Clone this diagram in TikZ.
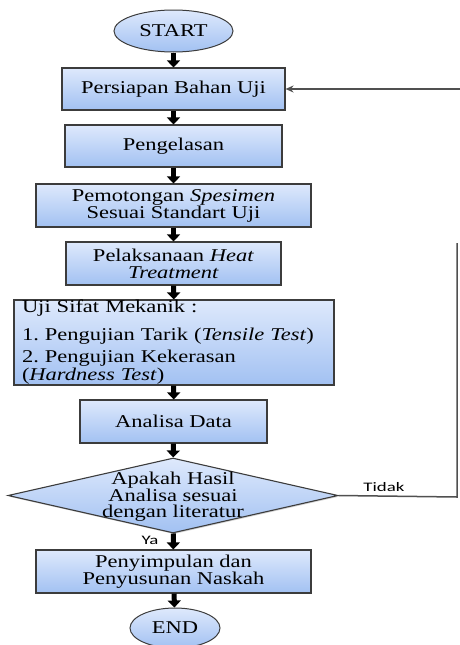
\documentclass[tikz,border=0pt]{standalone}
\usepackage{fontspec}
\setmainfont{Liberation Serif}[FakeStretch=1.25]
\newfontfamily\labelfont{Carlito}[FakeStretch=1.45]
\usepackage{tikz}
\usetikzlibrary{shapes.geometric}
\usetikzlibrary{arrows.meta}
\usetikzlibrary{shadows}
\definecolor{boxtop}{HTML}{DEE9FC}
\definecolor{boxbot}{HTML}{A2C1F2}
\definecolor{edge}{HTML}{3C3C3C}
\frenchspacing

\begin{document}
\begin{tikzpicture}[x=1pt,y=-1pt,
	box/.style={rectangle,draw=edge,line width=1.1pt,top color=boxtop,bottom color=boxbot,inner sep=0pt,align=center,
		drop shadow={opacity=0.35,shadow xshift=1pt,shadow yshift=-1.2pt},font=\fontsize{18}{17}\selectfont},
	term/.style={ellipse,draw=edge,line width=1pt,top color=boxtop,bottom color=boxbot,inner sep=0pt,font=\fontsize{18}{17}\selectfont},
	flow/.style={line width=5pt,-{Triangle[width=13pt,length=7pt]}},
	back/.style={draw=edge!90,line width=1.5pt}]
	\useasboundingbox (0,0) rectangle (460,645);

	\node (start)[term,minimum width=119,minimum height=42] at (173.5,31) {START};
	\node (prep)[box,minimum width=223,minimum height=42] at (173.5,89) {Persiapan Bahan Uji};
	\node (weld)[box,minimum width=217,minimum height=42] at (173.5,146) {Pengelasan};
	\node (cut)[box,minimum width=275,minimum height=43] at (173.5,205.5) {Pemotongan \textit{Spesimen}\\Sesuai Standart Uji};
	\node (heat)[box,minimum width=215,minimum height=43] at (173.5,263.5) {Pelaksanaan \textit{Heat}\\\textit{Treatment}};
	\node (test)[box,minimum width=320,minimum height=85,align=left,text width=304] at (174,342.5)
		{Uji Sifat Mekanik :\\[11pt]
		1. Pengujian Tarik (\textit{Tensile Test})\\[5pt]
		2. Pengujian Kekerasan\\[1pt]
		(\textit{Hardness Test})};
	\node (anal)[box,minimum width=187,minimum height=43] at (173.5,421.5) {Analisa Data};
	\node (dec)[box,diamond,minimum width=330,minimum height=75] at (173,495.5) {};
	\node (dectext)[align=center,inner sep=0pt,font=\fontsize{18}{16.5}\selectfont] at (173,497) {Apakah Hasil\\Analisa sesuai\\dengan literatur};
	\node (concl)[box,minimum width=275,minimum height=43] at (173.5,571.5) {Penyimpulan dan\\Penyusunan Naskah};
	\node (end)[term,minimum width=90,minimum height=40] at (175,628) {END};

	\foreach \a/\b in {start/prep,prep/weld,weld/cut,cut/heat,heat/test,test/anal,anal/dec,dec/concl,concl/end}{
		\draw[flow] (\a) -- (\b);
	}

	% jalur kembali
	\coordinate (ret1) at (457,497);
	\coordinate (ret2) at (457,243);
	\coordinate (ret3) at (460,89);
	\draw[back] (dec.east) -- (ret1) -- (ret2);
	\draw[back,-{Stealth[length=8pt,width=7pt]}] (ret3) -- (prep.east);

	\node (no)[font=\labelfont\fontsize{13}{13}\selectfont] at (384,487.5) {Tidak};
	\node (yes)[font=\labelfont\fontsize{13}{13}\selectfont] at (150,540.5) {Ya};
\end{tikzpicture}
\end{document}
